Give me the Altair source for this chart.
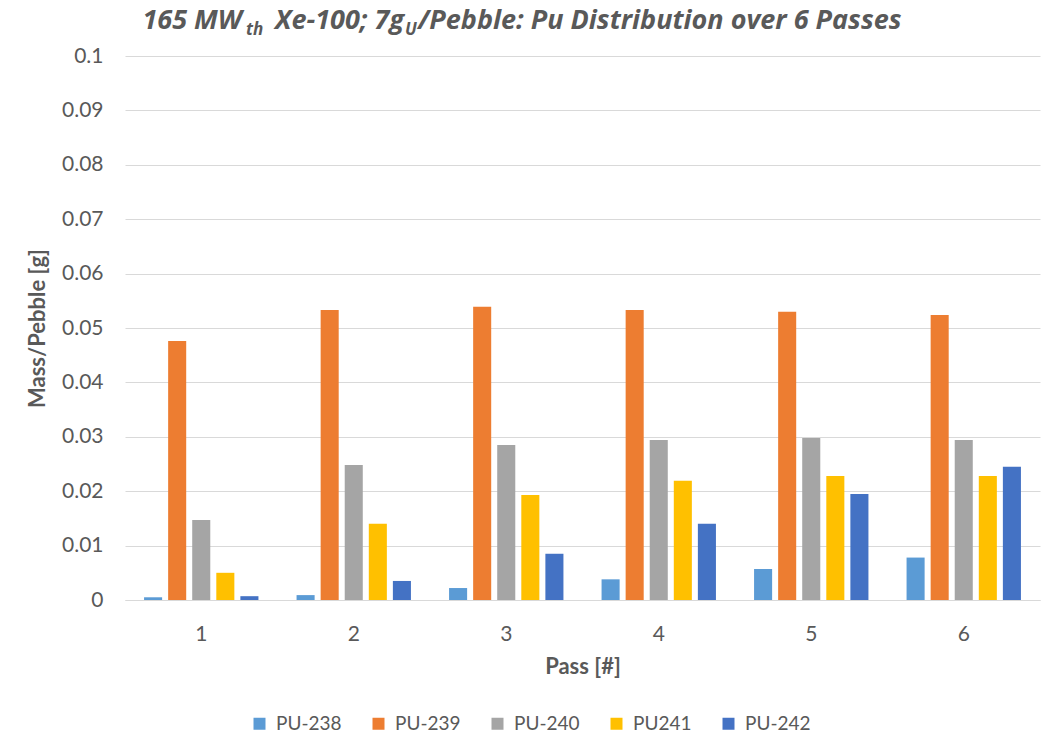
import altair as alt
import pandas as pd

# Plutonium isotope mass per pebble after each pass through the core
passes = [1, 2, 3, 4, 5, 6]
isotopes = ["PU-238", "PU-239", "PU-240", "PU241", "PU-242"]
colors = ["#5B9BD5", "#ED7D31", "#A5A5A5", "#FFC000", "#4472C4"]

pu238 = [0.0005, 0.0009, 0.0022, 0.0038, 0.0057, 0.0078]
pu239 = [0.0476, 0.0533, 0.0539, 0.0533, 0.0530, 0.0524]
pu240 = [0.0147, 0.0248, 0.0285, 0.0294, 0.0298, 0.0294]
pu241 = [0.0050, 0.0140, 0.0193, 0.0219, 0.0228, 0.0228]
pu242 = [0.0007, 0.0035, 0.0085, 0.0140, 0.0195, 0.0245]

series = [pu238, pu239, pu240, pu241, pu242]
rows = []
for name, vals in zip(isotopes, series):
    for p, v in zip(passes, vals):
        rows.append({"pass": p, "isotope": name, "mass": v})
df = pd.DataFrame(rows)

FONT = "Lato"
TITLE_FONT = "Open Sans"
GREY = "#595959"

bars = alt.Chart(df).mark_bar().encode(
    x=alt.X(
        "pass:O",
        title="Pass [#]",
        scale=alt.Scale(paddingInner=0.25, paddingOuter=0.125),
        axis=alt.Axis(
            labelAngle=0, ticks=False, labelPadding=23, labelFontSize=21,
            labelColor=GREY, labelFont=FONT, domainColor="#d9d9d9",
            titleFont=FONT, titleFontSize=22, titleColor=GREY,
            titleFontWeight="bold", titleBaseline="middle", titleY=66,
            grid=False,
        ),
    ),
    xOffset=alt.XOffset(
        "isotope:N", sort=isotopes,
        scale=alt.Scale(paddingInner=0.25, paddingOuter=0),
    ),
    y=alt.Y(
        "mass:Q",
        title="Mass/Pebble [g]",
        scale=alt.Scale(domain=[0, 0.1], nice=False),
        axis=alt.Axis(
            values=[i / 100 for i in range(11)], format="~g",
            ticks=False, domain=False, labelPadding=22, labelFontSize=21,
            labelColor=GREY, labelFont=FONT, gridColor="#d9d9d9",
            titleFont=FONT, titleFontSize=22, titleColor=GREY,
            titleFontWeight="bold", titleBaseline="middle", titleX=-88,
        ),
    ),
    color=alt.Color(
        "isotope:N", sort=isotopes,
        scale=alt.Scale(domain=isotopes, range=colors),
        legend=alt.Legend(
            title=None, orient="none", direction="horizontal",
            legendX=125, legendY=658, symbolType="square", symbolSize=144,
            symbolStrokeWidth=0, labelFontSize=19, labelColor=GREY,
            labelFont=FONT, columnPadding=27, labelOffset=7,
        ),
    ),
)

# Title pieces, with subscripts drawn as smaller, lowered text
one = alt.Data(values=[{}])
title_parts = [
    ("165 MW", 117, -27, 27, "right"),
    ("th", 121, -21, 17, "left"),
    ("Xe-100; 7g", 279, -27, 27, "right"),
    ("U", 280, -21, 17, "left"),
    ("/Pebble: Pu Distribution over 6 Passes", 293, -27, 27, "left"),
]
title_layers = [
    alt.Chart(one).mark_text(
        text=t, font=TITLE_FONT, fontSize=fs, fontWeight="bold",
        fontStyle="italic", color=GREY, align=al, baseline="alphabetic",
    ).encode(x=alt.value(xv), y=alt.value(yv))
    for t, xv, yv, fs, al in title_parts
]

chart = alt.layer(bars, *title_layers).properties(
    width=915, height=544,
    autosize=alt.AutoSizeParams(type="none"),
    padding={"left": 125, "top": 56, "right": 23, "bottom": 151},
).configure_view(stroke=None)

chart.save("out.html", embed_options={"renderer": "svg", "actions": False})
